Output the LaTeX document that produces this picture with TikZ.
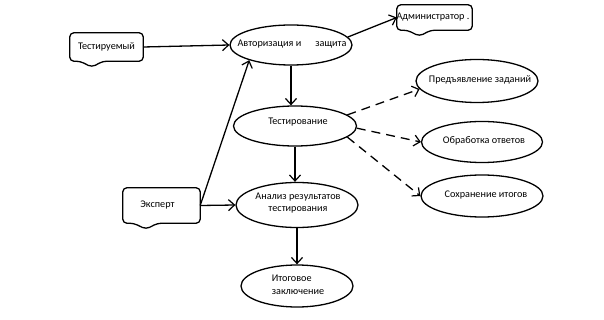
\documentclass[tikz,border=0pt]{standalone}
\usepackage{fontspec}
\setmainfont{Carlito}
\usetikzlibrary{shapes.geometric,arrows.meta,calc}
\tikzset{
  uc/.style={draw, ellipse, line width=1.3pt, inner sep=0pt},
  uctext/.style={inner sep=0pt, align=center, font=\fontsize{10.2}{12.5}\selectfont},
  callbox/.style={inner sep=0pt, align=center, font=\fontsize{10.2}{12}\selectfont},
  callshape/.style={draw, line width=1.3pt, rounded corners=4pt},
  arr/.style={line width=1.3pt, -{Straight Barb[length=6pt,width=11pt,line width=1.2pt]}},
  darr/.style={arr, dash pattern=on 9pt off 6pt},
}
\newcommand{\callout}[1]{%
  \draw[callshape] (#1.north) -- (#1.north east) -- (#1.south east)
    -- ($(#1.south west)!0.45!(#1.south east)$)
    -- ($(#1.south west)!0.30!(#1.south east)+(0,6)$)
    -- ($(#1.south west)!0.14!(#1.south east)$)
    -- (#1.south west) -- (#1.north west) -- cycle;}
\begin{document}
\begin{tikzpicture}[x=1pt,y=-1pt]
\useasboundingbox (0,0) rectangle (604,320);
% use cases
\node[uc, minimum width=122pt, minimum height=40pt] (auth) at (291,45) {};
\node[uctext] (auth-t) at (292,44) {Авторизация и\hspace{14pt}защита};
\node[uc, minimum width=123pt, minimum height=40pt] (test) at (295,126) {};
\node[uctext] (test-t) at (298,122) {Тестирование};
\node[uc, minimum width=122pt, minimum height=45pt] (anal) at (297,205) {};
\node[uctext] (anal-t) at (298,203) {Анализ результатов\\тестирования};
\node[uc, minimum width=112pt, minimum height=42pt] (itog) at (297,286) {};
\node[uctext, align=left] (itog-t) at (298,285) {Итоговое\\заключение};
\node[uc, minimum width=122pt, minimum height=43pt] (pred) at (477,81) {};
\node[uctext] (pred-t) at (480,80) {Предъявление заданий};
\node[uc, minimum width=121pt, minimum height=41pt] (obr) at (482,142) {};
\node[uctext] (obr-t) at (484,141) {Обработка ответов};
\node[uc, minimum width=122pt, minimum height=42pt] (sohr) at (482,196) {};
\node[uctext] (sohr-t) at (486,195) {Сохранение итогов};
% actors (callouts)
\node[callbox, minimum width=73pt, minimum height=28pt] (tst) at (106.5,47) {Тестируемый};
\callout{tst}
\node[callbox, minimum width=75pt, minimum height=25pt] (adm) at (434.5,17.5) {\hspace{-3pt}Администратор .};
\callout{adm}
\node[callbox, minimum width=77pt, minimum height=35pt] (eks) at (161.5,205.5) {\hspace{-8pt}Эксперт};
\callout{eks}
% connectors
\draw[arr] (tst.east) -- (auth.west);
\draw[arr] (auth.8) -- (adm.west);
\draw[arr] (auth.south) -- (auth.south |- test.north);
\draw[arr] (test.south) -- (test.south |- anal.north);
\draw[arr] (anal.south) -- (anal.south |- itog.north);
\draw[arr] (eks.east) -- (anal.west);
\draw[arr] (eks.east) -- (auth.200);
\draw[darr] (test.12) -- (pred.188);
\draw[darr] (test.-2) -- (obr.west);
\draw[darr] (test.-12) -- (sohr.west);
\end{tikzpicture}
\end{document}
